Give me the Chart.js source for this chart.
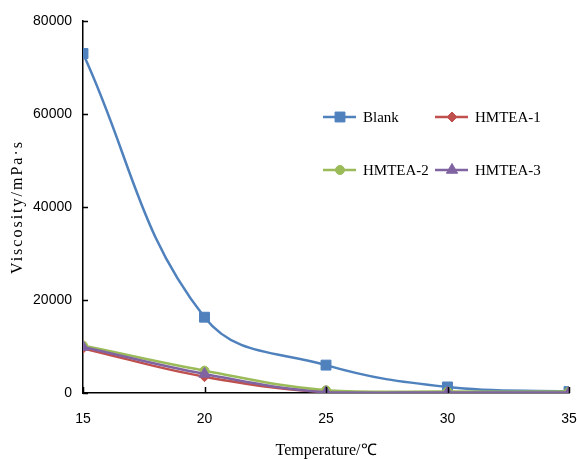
<!DOCTYPE html>
<html><head><meta charset="utf-8">
<script src="https://cdn.jsdelivr.net/npm/chart.js@4"></script>
<style>html,body{margin:0;padding:0;background:#fff}#wrap{width:577px;height:459px}</style>
</head><body><div id="wrap"><canvas id="c" width="577" height="459"></canvas></div>
<script>
const temperatures = [15, 20, 25, 30, 35];
const blank = [73000, 16300, 6000, 1300, 300];
const hmtea1 = [9600, 3500, 200, 100, 100];
const hmtea2 = [10200, 4800, 600, 300, 300];
const hmtea3 = [9900, 4100, 150, 100, 100];
const yTicks = [0, 20000, 40000, 60000, 80000];
const seriesNames = ['Blank', 'HMTEA-1', 'HMTEA-2', 'HMTEA-3'];
const yTitle = 'Viscosity/mPa·s';
const xTitle = 'Temperature/℃';

const colors = ['#4F81BD', '#C0504D', '#9BBB59', '#8064A2'];
const shapes = ['rect', 'rectRot', 'circle', 'triangle'];
const radii = [7, 5, 4.5, 6.5];
const values = [blank, hmtea1, hmtea2, hmtea3];
const orders = [3, 2, 1, 0];

const datasets = seriesNames.map((n, i) => ({
  label: n,
  data: temperatures.map((t, j) => ({x: t, y: values[i][j]})),
  borderColor: colors[i],
  backgroundColor: colors[i],
  borderWidth: 2.5,
  pointStyle: shapes[i],
  pointRadius: radii[i],
  pointBorderWidth: 1,
  tension: 0.4,
  order: orders[i]
}));

const innerTicks = {
  id: 'innerTicks',
  afterDatasetsDraw(chart) {
    const ctx = chart.ctx, a = chart.chartArea;
    const xs = chart.scales.x, ys = chart.scales.y;
    ctx.save();
    ctx.strokeStyle = '#000';
    ctx.lineWidth = 1.5;
    ctx.beginPath();
    ys.ticks.forEach(t => { const y = Math.round(ys.getPixelForValue(t.value)) + 0.5; ctx.moveTo(a.left, y); ctx.lineTo(a.left + 5, y); });
    xs.ticks.forEach(t => { const x = Math.round(xs.getPixelForValue(t.value)) + 0.5; ctx.moveTo(x, a.bottom); ctx.lineTo(x, a.bottom - 6); });
    ctx.stroke();
    ctx.restore();
  }
};

const titlesAndLegend = {
  id: 'titlesAndLegend',
  afterDraw(chart) {
    const ctx = chart.ctx, a = chart.chartArea;
    ctx.save();
    // axis titles
    ctx.fillStyle = '#000';
    ctx.textAlign = 'center';
    ctx.textBaseline = 'middle';
    ctx.font = '16px "Liberation Serif"';
    ctx.fillText(xTitle, (a.left + a.right) / 2, 451);
    ctx.save();
    ctx.translate(18, (a.top + a.bottom) / 2);
    ctx.rotate(-Math.PI / 2);
    ctx.letterSpacing = '2px';
    ctx.fillText(yTitle, 0, 0);
    ctx.restore();
    // legend
    const pos = [[323, 117], [435, 117], [323, 170], [435, 170]];
    seriesNames.forEach((n, i) => {
      const [x, y] = pos[i];
      ctx.strokeStyle = colors[i];
      ctx.lineWidth = 2.5;
      ctx.beginPath(); ctx.moveTo(x, y); ctx.lineTo(x + 33, y); ctx.stroke();
      ctx.fillStyle = colors[i];
      ctx.lineWidth = 1;
      Chart.helpers.drawPoint(ctx, {pointStyle: shapes[i], rotation: 0, borderWidth: 1, radius: radii[i]}, x + 17, y);
      ctx.fillStyle = '#000';
      ctx.font = '15px "Liberation Serif"';
      ctx.textBaseline = 'middle';
      ctx.textAlign = 'left';
      ctx.fillText(n, x + 40, y + 1);
    });
    ctx.restore();
  }
};

new Chart(document.getElementById('c'), {
  type: 'line',
  data: {datasets},
  plugins: [innerTicks, titlesAndLegend],
  options: {
    responsive: false,
    animation: false,
    layout: {padding: {top: 21, right: 8, left: 0, bottom: 0}},
    plugins: {legend: {display: false}, tooltip: {enabled: false}},
    scales: {
      x: {
        type: 'linear', min: 15, max: 35,
        afterBuildTicks: s => { s.ticks = temperatures.map(v => ({value: v})); },
        grid: {display: false, drawTicks: false},
        border: {color: '#000', width: 1.5},
        ticks: {color: '#000', font: {family: '"Liberation Sans Narrow", "Liberation Sans"', size: 14}, padding: 18, maxRotation: 0, callback: v => String(v)},
        afterFit: s => { s.height = 66; s.paddingRight = 0; s.paddingLeft = 0; }
      },
      y: {
        min: 0, max: 80000,
        afterBuildTicks: s => { s.ticks = yTicks.map(v => ({value: v})); },
        grid: {display: false, drawTicks: false},
        border: {color: '#000', width: 1.5},
        ticks: {color: '#000', font: {family: '"Liberation Sans Narrow", "Liberation Sans"', size: 14}, padding: 11, callback: v => String(v)},
        afterFit: s => { s.width = 83; s.paddingTop = 0; s.paddingBottom = 0; }
      }
    }
  }
});
</script>
</body></html>
